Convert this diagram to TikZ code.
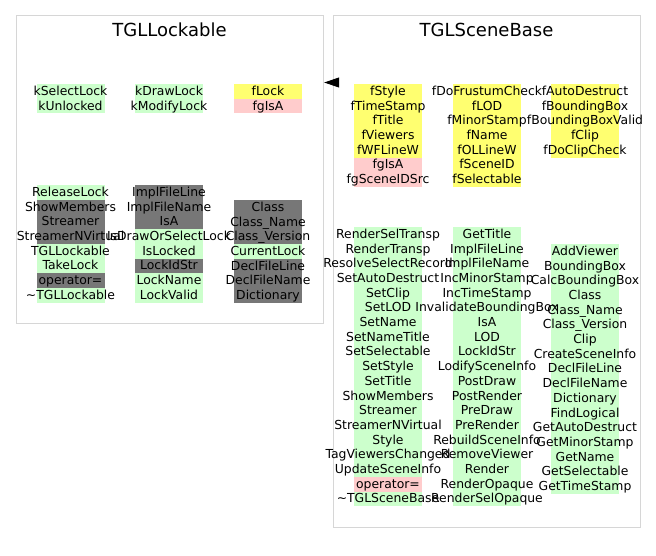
\documentclass[tikz,border=0pt]{standalone}
\usepackage{fontspec}
\setmainfont{DejaVu Sans}
\usetikzlibrary{arrows.meta}
\pgfdeclarelayer{background}
\pgfsetlayers{background,main}
\definecolor{memgreen}{HTML}{CCFFCC}
\definecolor{memyellow}{HTML}{FFFF70}
\definecolor{mempink}{HTML}{FFCCCC}
\definecolor{memgray}{HTML}{777777}
\definecolor{boxgray}{HTML}{D6D6D6}
\tikzset{
	x=1pt, y=-1pt,
	classbox/.style={draw=boxgray, line width=1.2pt, anchor=north west, inner sep=0pt},
	classname/.style={anchor=base, font=\fontsize{18}{20}\selectfont},
	member/.style={anchor=base, inner sep=0pt, font=\fontsize{12.4}{14}\selectfont},
	inherit/.style={-{Triangle[length=15pt,width=10pt]}, line width=1pt}}

% one column of members: name, x centre, top y, list of colour/label
\newcommand{\membercol}[4]{%
	\foreach \clr/\lbl [count=\i] in {#4} {%
		\begin{pgfonlayer}{background}
			\fill[\clr] ({#2-34}, {#3+14.7*(\i-1)}) rectangle ++(68,14.7);
		\end{pgfonlayer}
		\node[member] (#1-\i) at (#2, {#3+14.7*(\i-1)+11.3}) {\lbl};
	}%
}

\begin{document}
\begin{tikzpicture}
	\useasboundingbox (0,0) rectangle (656,555);

	\node[classbox, minimum width=307pt, minimum height=308pt] (lock) at (16,15) {};
	\node[classbox, minimum width=307pt, minimum height=512pt] (scene) at (333,15) {};
	\node[classname] (lockname) at (169.5,36.5) {TGLLockable};
	\node[classname] (scenename) at (486.5,36.5) {TGLSceneBase};

	% TGLLockable
	\membercol{lockA}{70.5}{84}{memgreen/kSelectLock, memgreen/kUnlocked}
	\membercol{lockB}{169}{84}{memgreen/kDrawLock, memgreen/kModifyLock}
	\membercol{lockC}{268}{84}{memyellow/fLock, mempink/fgIsA}
	\membercol{lockD}{70.5}{185}{memgreen/ReleaseLock, memgray/ShowMembers, memgray/Streamer,
		memgray/StreamerNVirtual, memgreen/TGLLockable, memgreen/TakeLock, memgray/operator=,
		memgreen/\textasciitilde TGLLockable}
	\membercol{lockE}{169}{185}{memgray/ImplFileLine, memgray/ImplFileName, memgray/IsA,
		memgreen/IsDrawOrSelectLock, memgreen/IsLocked, memgray/LockIdStr, memgreen/LockName,
		memgreen/LockValid}
	\membercol{lockF}{268}{200}{memgray/Class, memgray/Class\_Name, memgray/Class\_Version,
		memgreen/CurrentLock, memgray/DeclFileLine, memgray/DeclFileName, memgray/Dictionary}

	% TGLSceneBase
	\membercol{sceneA}{388}{84}{memyellow/fStyle, memyellow/fTimeStamp, memyellow/fTitle,
		memyellow/fViewers, memyellow/fWFLineW, mempink/fgIsA, mempink/fgSceneIDSrc}
	\membercol{sceneB}{487}{84}{memyellow/fDoFrustumCheck, memyellow/fLOD, memyellow/fMinorStamp,
		memyellow/fName, memyellow/fOLLineW, memyellow/fSceneID, memyellow/fSelectable}
	\membercol{sceneC}{585}{84}{memyellow/fAutoDestruct, memyellow/fBoundingBox,
		memyellow/fBoundingBoxValid, memyellow/fClip, memyellow/fDoClipCheck}
	\membercol{sceneD}{388}{227}{memgreen/RenderSelTransp, memgreen/RenderTransp,
		memgreen/ResolveSelectRecord, memgreen/SetAutoDestruct, memgreen/SetClip, memgreen/SetLOD,
		memgreen/SetName, memgreen/SetNameTitle, memgreen/SetSelectable, memgreen/SetStyle,
		memgreen/SetTitle, memgreen/ShowMembers, memgreen/Streamer, memgreen/StreamerNVirtual,
		memgreen/Style, memgreen/TagViewersChanged, memgreen/UpdateSceneInfo, mempink/operator=,
		memgreen/\textasciitilde TGLSceneBase}
	\membercol{sceneE}{487}{227}{memgreen/GetTitle, memgreen/ImplFileLine, memgreen/ImplFileName,
		memgreen/IncMinorStamp, memgreen/IncTimeStamp, memgreen/InvalidateBoundingBox, memgreen/IsA,
		memgreen/LOD, memgreen/LockIdStr, memgreen/LodifySceneInfo, memgreen/PostDraw,
		memgreen/PostRender, memgreen/PreDraw, memgreen/PreRender, memgreen/RebuildSceneInfo,
		memgreen/RemoveViewer, memgreen/Render, memgreen/RenderOpaque, memgreen/RenderSelOpaque}
	\membercol{sceneF}{585}{244}{memgreen/AddViewer, memgreen/BoundingBox, memgreen/CalcBoundingBox,
		memgreen/Class, memgreen/Class\_Name, memgreen/Class\_Version, memgreen/Clip,
		memgreen/CreateSceneInfo, memgreen/DeclFileLine, memgreen/DeclFileName, memgreen/Dictionary,
		memgreen/FindLogical, memgreen/GetAutoDestruct, memgreen/GetMinorStamp, memgreen/GetName,
		memgreen/GetSelectable, memgreen/GetTimeStamp}

	\coordinate (tip) at (0,82.5);
	\draw[inherit] (scene.west |- tip) -- (lock.east |- tip);
\end{tikzpicture}
\end{document}
